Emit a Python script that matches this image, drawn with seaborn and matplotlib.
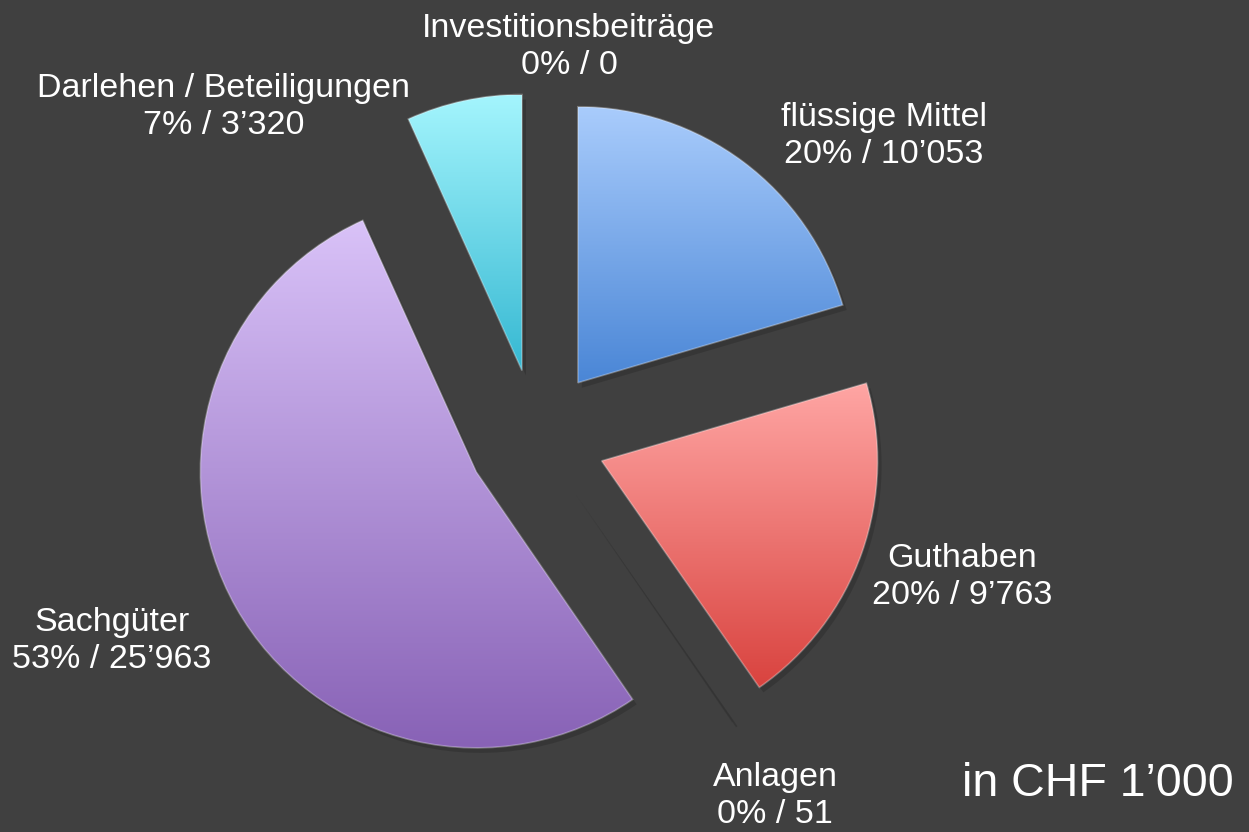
import numpy as np
import matplotlib
matplotlib.use("Agg")
import matplotlib.pyplot as plt
import seaborn as sns

# ---- data ----
categories = ["flüssige Mittel", "Guthaben", "Anlagen", "Sachgüter",
              "Darlehen / Beteiligungen", "Investitionsbeiträge"]
values = [10053, 9763, 51, 25963, 3320, 0]
top_colors = ["#a9ccfc", "#ffa6a4", "#c9e09a", "#d9c2f8", "#a4f5fd", "#fbc89c"]
bottom_colors = ["#4a86d6", "#d9433f", "#86a84a", "#8862b6", "#35b8d2", "#e07a2c"]
unit_label = "in CHF 1’000"

BG = "#404040"
sns.set_style("dark", {"axes.facecolor": BG, "figure.facecolor": BG})
plt.rcParams["font.family"] = ["Liberation Sans", "DejaVu Sans"]

W, H = 1249, 832
fig = plt.figure(figsize=(W / 100, H / 100), dpi=100, facecolor=BG)
ax = fig.add_axes([0, 0, 1, 1])
ax.set_facecolor(BG)

center = (536.5, H - 438)
R = 276
explode = [69] * len(values)

# soft shadows
shadows, _ = ax.pie(values, explode=explode, startangle=90, counterclock=False,
                    center=(center[0] + 4, center[1] - 5), radius=R,
                    colors=["#000000"] * len(values),
                    wedgeprops=dict(alpha=0.15, linewidth=0))
for s in shadows:
    s.set_zorder(1)

wedges, _ = ax.pie(values, explode=explode, startangle=90, counterclock=False,
                   center=center, radius=R, colors=bottom_colors,
                   wedgeprops=dict(linewidth=0))

total = sum(values)
for w, v, tc, bc in zip(wedges, values, top_colors, bottom_colors):
    w.set_zorder(2)
    if v == 0:
        w.set_visible(False)
        continue
    if v / total < 0.005:
        # hairline slice: barely visible
        w.set_facecolor((0.2, 0.2, 0.2, 0.5))
        w.set_edgecolor("none")
        continue
    ext = w.get_path().get_extents()
    cmap = sns.blend_palette([bc, tc], n_colors=256, as_cmap=True)
    grad = np.linspace(0, 1, 256).reshape(-1, 1)
    im = ax.imshow(grad, cmap=cmap, origin="lower", aspect="auto",
                   extent=[ext.x0, ext.x1, ext.y0, ext.y1], zorder=3,
                   interpolation="bilinear")
    im.set_clip_path(w)
    w.set_facecolor("none")
    w.set_edgecolor((1, 1, 1, 0.3))
    w.set_linewidth(1.2)
    w.set_zorder(4)

# labels
label_pos = [(884, 136), (962, 577), (775, 796), (112, 641), (224, 107), (569, 47)]
for cat, v, (lx, ly) in zip(categories, values, label_pos):
    pct = round(v / total * 100)
    vs = f"{v:,}".replace(",", "’")
    ax.text(lx, H - ly, f"{cat}\n{pct}% / {vs}", ha="center", va="center",
            color="white", fontsize=24.5, linespacing=1.27, zorder=5)

ax.text(1098, H - 784, unit_label, ha="center", va="center", color="white",
        fontsize=33.5, zorder=5)

ax.set_xlim(0, W)
ax.set_ylim(0, H)
ax.set_aspect("equal")
ax.axis("off")

fig.savefig("out.png", dpi=100, facecolor=BG)
